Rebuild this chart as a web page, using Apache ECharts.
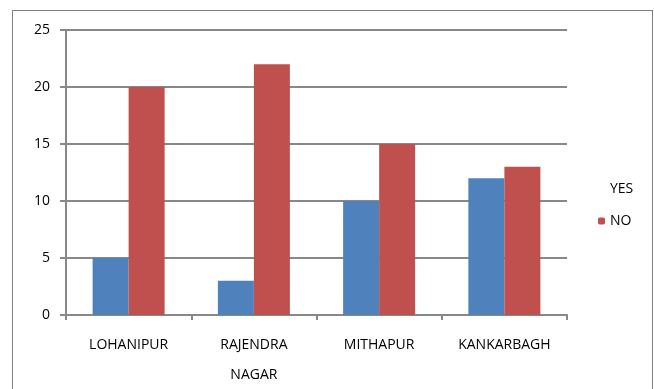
<!DOCTYPE html>
<html>
<head>
<meta charset="utf-8">
<script src="https://cdn.jsdelivr.net/npm/echarts@6/dist/echarts.min.js"></script>
<style>
  html, body { margin: 0; padding: 0; background: #fff; }
  #frame { position: absolute; left: 12px; top: 10px; width: 639px; height: 385px; border: 1px solid #7f7f7f; }
  #chart { width: 654px; height: 389px; }
</style>
</head>
<body>
<div id="frame"></div>
<div id="chart"></div>
<script>
// data
var places = ['LOHANIPUR', 'RAJENDRA\nNAGAR', 'MITHAPUR', 'KANKARBAGH'];
var yesData = [5, 3, 10, 12];
var noData = [20, 22, 15, 13];

var mychart = echarts.init(document.getElementById('chart'));
var option = {
    animation: false,
    textStyle: { fontFamily: 'Open Sans, DejaVu Sans, sans-serif' },
    grid: { left: 66, top: 30, width: 501, height: 285, outerBoundsMode: 'none' },
    legend: {
        orient: 'vertical',
        left: 593,
        top: 177,
        itemWidth: 7,
        itemHeight: 7,
        itemGap: 18,
        textStyle: { fontSize: 14, color: '#000' },
        data: [
            { name: 'YES', itemStyle: { opacity: 0 } },
            'NO'
        ]
    },
    xAxis: {
        type: 'category',
        data: places,
        axisLine: { lineStyle: { color: '#888', width: 2 } },
        axisTick: { show: true, length: 5, lineStyle: { color: '#888', width: 2 } },
        axisLabel: { color: '#000', fontSize: 14, margin: 15, lineHeight: 30 }
    },
    yAxis: {
        type: 'value',
        min: 0,
        max: 25,
        interval: 5,
        axisLine: { show: true, lineStyle: { color: '#888', width: 2 } },
        axisTick: { show: true, length: 6, lineStyle: { color: '#888', width: 2 } },
        axisLabel: { color: '#000', fontSize: 14, margin: 16 },
        splitLine: { lineStyle: { color: '#888', width: 2 } }
    },
    series: [{
        name: 'YES',
        type: 'bar',
        barWidth: 36,
        barGap: '0%',
        itemStyle: { color: '#4F81BD' },
        data: yesData
    }, {
        name: 'NO',
        type: 'bar',
        barWidth: 36,
        itemStyle: { color: '#C0504D' },
        data: noData
    }]
};
mychart.setOption(option);
</script>
</body>
</html>
